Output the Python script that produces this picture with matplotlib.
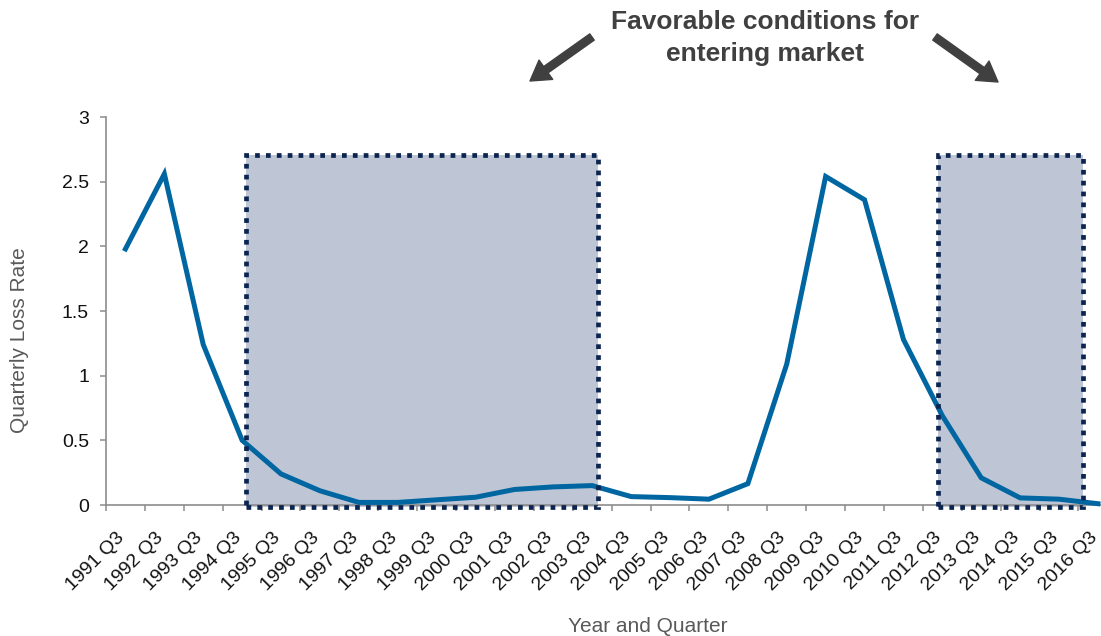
import matplotlib
matplotlib.use("Agg")
import matplotlib.pyplot as plt
from matplotlib.patches import Rectangle
from matplotlib.transforms import ScaledTranslation

# ---- data ----
quarters = ["1991 Q3", "1992 Q3", "1993 Q3", "1994 Q3", "1995 Q3", "1996 Q3",
            "1997 Q3", "1998 Q3", "1999 Q3", "2000 Q3", "2001 Q3", "2002 Q3",
            "2003 Q3", "2004 Q3", "2005 Q3", "2006 Q3", "2007 Q3", "2008 Q3",
            "2009 Q3", "2010 Q3", "2011 Q3", "2012 Q3", "2013 Q3", "2014 Q3",
            "2015 Q3", "2016 Q3"]
loss_rate = [1.98, 2.56, 1.24, 0.50, 0.24, 0.11, 0.02, 0.02, 0.04, 0.06, 0.12,
             0.14, 0.15, 0.065, 0.057, 0.045, 0.165, 1.09, 2.54, 2.36, 1.28,
             0.69, 0.21, 0.055, 0.045, 0.01]
yticks = [0, 0.5, 1, 1.5, 2, 2.5, 3]
ytick_labels = ["0", "0.5", "1", "1.5", "2", "2.5", "3"]
# favorable periods (x-range in category units, top value)
boxes = [(3.10, 12.15), (20.9, 24.62)]
box_top = 2.71
annotation = "Favorable conditions for\nentering market"

plt.rcParams['font.family'] = ['Liberation Sans', 'DejaVu Sans']

W, H = 1101, 636
fig = plt.figure(figsize=(W / 100, H / 100), dpi=100)
left_px, right_px = 106, 1101
bot_px, top_px = 505, 117
ax = fig.add_axes([left_px / W, (H - bot_px) / H, (right_px - left_px) / W,
                   (bot_px - top_px) / H])

x = list(range(len(quarters)))

# favorable boxes
for (x0, x1) in boxes:
    ax.add_patch(Rectangle((x0, -0.015), x1 - x0, box_top + 0.015,
                           facecolor='#BEC5D5', edgecolor='none', zorder=1,
                           clip_on=False))
    ax.add_patch(Rectangle((x0, -0.015), x1 - x0, box_top + 0.015,
                           facecolor='none', edgecolor='#0B2550', lw=3.4,
                           linestyle=(0, (1.0, 1.3)), zorder=4, clip_on=False))

ax.plot(x, loss_rate, color='#0066A1', lw=3.6, zorder=3, clip_on=False,
        solid_joinstyle='miter')

# spines
for s in ['top', 'right']:
    ax.spines[s].set_visible(False)
for s in ['left', 'bottom']:
    ax.spines[s].set_color('#8C8C8C')
    ax.spines[s].set_linewidth(1.2)
ax.spines['bottom'].set_zorder(2)

ax.set_yticks(yticks)
ax.set_yticklabels(ytick_labels)
ax.tick_params(axis='y', direction='out', length=4.3, width=1.1,
               color='#8C8C8C', labelsize=14, pad=8, labelcolor='#111111')

# x ticks: marks at boundaries, labels at centres
ax.set_xticks([i - 0.5 for i in range(len(quarters) + 1)])
ax.set_xticklabels([])
ax.tick_params(axis='x', which='major', direction='out', length=4, width=1.1,
               color='#8C8C8C')
ax.set_xticks(x, minor=True)
ax.set_xticklabels(quarters, minor=True, rotation=45, ha='right', va='center',
                   rotation_mode='anchor')
ax.tick_params(axis='x', which='minor', length=0, pad=21.5, labelsize=14,
               labelcolor='#111111')
off = ScaledTranslation(-2.5 / 72, 0, fig.dpi_scale_trans)
for lbl in ax.get_xticklabels(minor=True):
    lbl.set_transform(lbl.get_transform() + off)

# limits set after ticks (set_xticks can expand the view)
xmax = -0.5 + (right_px - left_px) / 38.9
ax.set_xlim(-0.5, xmax)
ax.set_ylim(0, 3)

# axis titles
fig.text(20 / W, (H - 340) / H, "Quarterly Loss Rate", rotation=90,
         ha='center', va='center', fontsize=15, color='#595959')
fig.text(648 / W, (H - 627) / H, "Year and Quarter", ha='center',
         va='center', fontsize=15, color='#595959')

# annotation text and arrows
fig.text(765 / W, (H - 38) / H, annotation, ha='center', va='center',
         fontsize=19, fontweight='bold', color='#404040', linespacing=1.42)
arrow_style = 'simple,head_width=0.68,head_length=0.56,tail_width=0.22'
for (xs, ys, xe, ye) in [(592, 37, 530, 81), (935, 37, 998, 82)]:
    ax.annotate('', xy=(xe, H - ye), xycoords='figure pixels',
                xytext=(xs, H - ys), textcoords='figure pixels',
                arrowprops=dict(arrowstyle=arrow_style, color='#404040',
                                mutation_scale=25, shrinkA=0, shrinkB=0),
                annotation_clip=False)

fig.savefig('out.png', dpi=100)
